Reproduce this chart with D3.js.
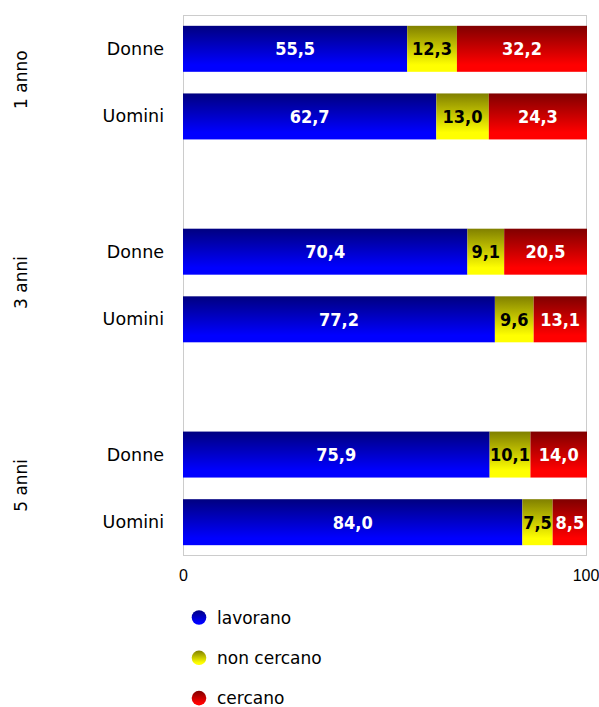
<!DOCTYPE html>
<html><head><meta charset="utf-8">
<script src="https://cdn.jsdelivr.net/npm/d3@7"></script>
<style>body{margin:0;background:#fff}svg{display:block}</style>
</head><body>
<script>
const groups = ["1 anno", "3 anni", "5 anni"];
const categories = ["Donne", "Uomini"];
const seriesNames = ["lavorano", "non cercano", "cercano"];
const lavorano   = [55.5, 62.7, 70.4, 77.2, 75.9, 84.0];
const nonCercano = [12.3, 13.0, 9.1, 9.6, 10.1, 7.5];
const cercano    = [32.2, 24.3, 20.5, 13.1, 14.0, 8.5];
const xTicks = [0, 100];

const W = 599, H = 707;
const plot = {left: 183, right: 587, top: 15, bottom: 556};
const colors = [
  {dark: "#000080", bright: "#0000ff", text: "#fff"},
  {dark: "#808000", bright: "#ffff00", text: "#000"},
  {dark: "#800000", bright: "#ff0000", text: "#fff"}
];
const seriesVals = [lavorano, nonCercano, cercano];

const rows = [];
const slots = [];
groups.forEach((g, gi) => {
  categories.forEach((c, ci) => {
    const i = gi * categories.length + ci;
    const key = g + "|" + c;
    slots.push(key);
    rows.push({key, group: g, cat: c, vals: seriesVals.map(s => s[i])});
  });
  if (gi < groups.length - 1) slots.push("gap" + gi);
});

const svg = d3.select("body").append("svg").attr("width", W).attr("height", H)
  .style("font-family", "'DejaVu Sans', sans-serif");

const defs = svg.append("defs");
colors.forEach((c, i) => {
  const lg = defs.append("linearGradient").attr("id", "g" + i)
    .attr("x1", 0).attr("y1", 0).attr("x2", 0).attr("y2", 1);
  lg.append("stop").attr("offset", "0%").attr("stop-color", c.dark);
  lg.append("stop").attr("offset", "85%").attr("stop-color", c.bright);
  lg.append("stop").attr("offset", "100%").attr("stop-color", c.bright);
});

const x = d3.scaleLinear().domain([0, 100]).range([plot.left, plot.right]);
const y = d3.scaleBand().domain(slots).range([plot.top, plot.bottom])
  .paddingInner(0.32).paddingOuter(0.16);

svg.append("rect").attr("x", plot.left + 0.5).attr("y", plot.top + 0.5)
  .attr("width", plot.right - plot.left - 1).attr("height", plot.bottom - plot.top - 1)
  .attr("fill", "none").attr("stroke", "#cccccc").attr("stroke-width", 1);

rows.forEach(r => {
  let acc = 0;
  r.vals.forEach((v, si) => {
    const x0 = x(acc), x1 = x(acc + v);
    acc += v;
    svg.append("rect").attr("x", x0).attr("y", y(r.key))
      .attr("width", x1 - x0).attr("height", y.bandwidth())
      .attr("fill", `url(#g${si})`);
    svg.append("text").attr("x", (x0 + x1) / 2).attr("y", y(r.key) + y.bandwidth() / 2)
      .attr("text-anchor", "middle").attr("dominant-baseline", "central")
      .style("font-family", "'DejaVu Sans Condensed', 'DejaVu Sans', sans-serif")
      .attr("font-weight", "bold").attr("font-size", 18)
      .attr("fill", colors[si].text)
      .text(d3.format(".1f")(v).replace(".", ","));
  });
  svg.append("text").attr("x", 164).attr("y", y(r.key) + y.bandwidth() / 2)
    .attr("text-anchor", "end").attr("dominant-baseline", "central")
    .attr("font-size", 17.5).attr("fill", "#000").text(r.cat);
});

groups.forEach(g => {
  const keys = categories.map(c => g + "|" + c);
  const y0 = y(keys[0]), y1 = y(keys[keys.length - 1]) + y.bandwidth();
  const cy = (y0 + y1) / 2 - 3;
  svg.append("text").attr("transform", `translate(21,${cy}) rotate(-90)`)
    .attr("text-anchor", "middle").attr("dominant-baseline", "central")
    .attr("font-size", 17).attr("fill", "#000").text(g);
});

const axis = d3.axisBottom(x).tickValues(xTicks).tickSize(0).tickPadding(0).tickFormat(d3.format("d"));
const ag = svg.append("g").attr("transform", `translate(0,${plot.bottom + 14})`).call(axis);
ag.select(".domain").remove();
ag.selectAll("text").attr("font-size", 16).attr("fill", "#000")
  .style("font-family", "'Liberation Sans', Arial, sans-serif");
ag.selectAll(".tick").filter(d => d === 100).select("text").attr("dx", -1.5);

const leg = svg.append("g");
seriesNames.forEach((n, i) => {
  const cy = 617.5 + i * 40.3;
  leg.append("circle").attr("cx", 199).attr("cy", cy).attr("r", 7.3).attr("fill", `url(#g${i})`);
  leg.append("text").attr("x", 217).attr("y", cy).attr("dominant-baseline", "central")
    .attr("font-size", 17).attr("fill", "#000").text(n);
});
</script>
</body></html>
